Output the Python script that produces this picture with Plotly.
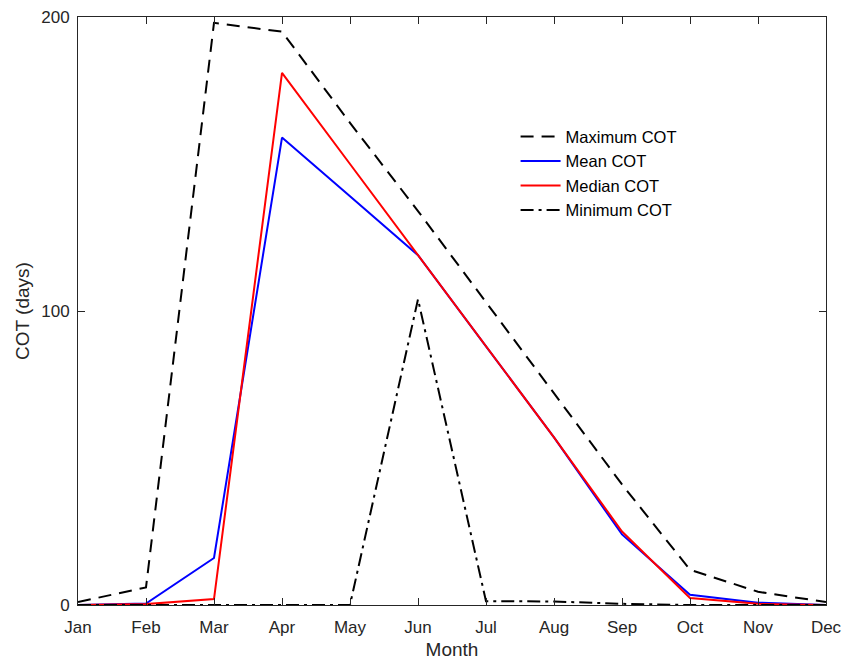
import plotly.graph_objects as go

# Monthly COT statistics (days)
months = ["Jan", "Feb", "Mar", "Apr", "May", "Jun",
          "Jul", "Aug", "Sep", "Oct", "Nov", "Dec"]
month_idx = list(range(1, 13))

max_cot = [1, 6, 198, 195, 164, 134, 103, 72, 41, 12, 4.5, 1]
mean_cot = [0, 0.5, 16, 159, 139, 119, 88, 57, 24, 3.5, 0.8, 0]
median_cot = [0, 0.3, 2, 181, 150, 119, 88, 57, 25, 2.4, 0.4, 0]
min_cot = [0, 0, 0, 0, 0, 104, 1.3, 1.2, 0.4, 0, 0, 0]

y_ticks = [0, 100, 200]

axis_color = "#262626"
font_family = "Liberation Sans, Arial, sans-serif"

fig = go.Figure()
fig.add_trace(go.Scatter(x=month_idx, y=max_cot, mode="lines", name="Maximum COT",
                         line=dict(color="black", width=2, dash="13px,8px"),
                         cliponaxis=False))
fig.add_trace(go.Scatter(x=month_idx, y=mean_cot, mode="lines", name="Mean COT",
                         line=dict(color="#0000ff", width=2), cliponaxis=False))
fig.add_trace(go.Scatter(x=month_idx, y=median_cot, mode="lines", name="Median COT",
                         line=dict(color="#ff0000", width=2), cliponaxis=False))
fig.add_trace(go.Scatter(x=month_idx, y=min_cot, mode="lines", name="Minimum COT",
                         line=dict(color="black", width=2, dash="13px,5px,3px,5px"),
                         cliponaxis=False))

fig.update_layout(
    width=843, height=662,
    margin=dict(l=78, r=17, t=17, b=57, autoexpand=False),
    plot_bgcolor="white", paper_bgcolor="white",
    font=dict(family=font_family, size=17, color=axis_color),
    showlegend=True,
    legend=dict(x=0.585, y=0.826, xanchor="left", yanchor="top",
                bgcolor="rgba(255,255,255,0)", borderwidth=0,
                font=dict(size=16.5, color="black"),
                tracegroupgap=0, itemwidth=40),
)

fig.update_xaxes(
    range=[1, 12], tickmode="array", tickvals=month_idx, ticktext=months,
    showgrid=False, zeroline=False, showline=True, linecolor=axis_color, linewidth=1,
    mirror="ticks", ticks="inside", ticklen=7, tickcolor=axis_color,
    tickfont=dict(size=17, color=axis_color), ticklabelstandoff=7,
    title=dict(text="Month", font=dict(size=19, color=axis_color), standoff=6),
    automargin=False,
)
fig.update_yaxes(
    range=[0, 200], tickmode="array", tickvals=y_ticks,
    showgrid=False, zeroline=False, showline=True, linecolor=axis_color, linewidth=1,
    mirror="ticks", ticks="inside", ticklen=7, tickcolor=axis_color,
    tickfont=dict(size=17, color=axis_color), ticklabelstandoff=4,
    title=dict(text="COT (days)", font=dict(size=19, color=axis_color), standoff=6),
    automargin=False,
)

fig.write_html("out.html")
